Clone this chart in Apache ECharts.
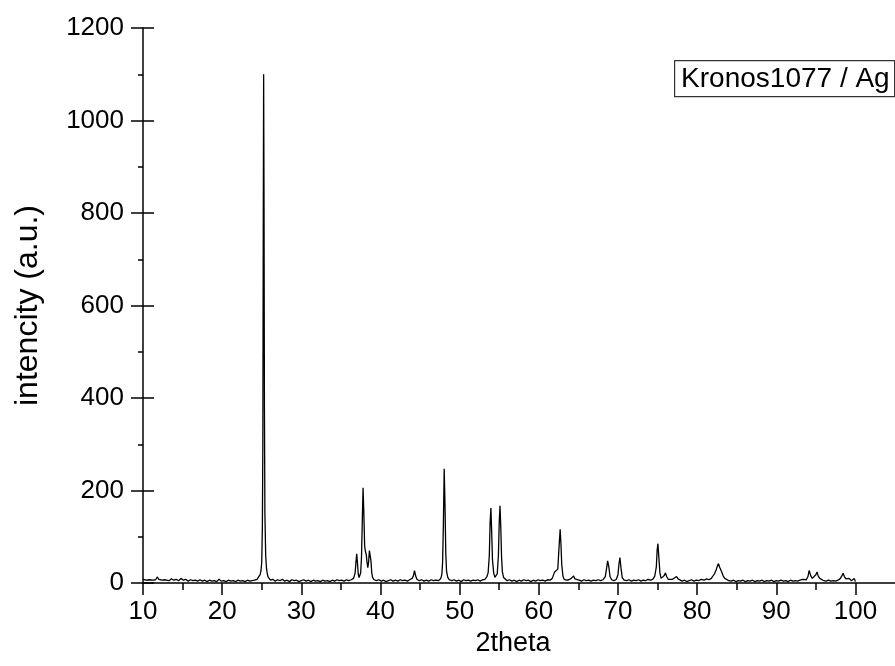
<!DOCTYPE html>
<html>
<head>
<meta charset="utf-8">
<script src="https://cdn.jsdelivr.net/npm/echarts@6/dist/echarts.min.js"></script>
<style>html,body{margin:0;padding:0;background:#fff}#chart{width:895px;height:666px}</style>
</head>
<body>
<div id="chart"></div>
<script>
// ---- data (2theta, intensity) ----
const scanLowAngle = [
  [10.0,8],[10.2,12],[10.4,6],[10.6,10],[10.8,7],[11.0,11],[11.2,6],[11.4,9],[11.6,7],[11.8,13],
  [12.0,8],[12.2,10],[12.4,6],[12.6,9],[12.8,7],[13.0,8],[13.3,5],[13.6,9],[13.9,6],[14.2,8],
  [14.5,5],[14.8,10],[15.1,6],[15.4,8],[15.7,4],[16.0,7],[16.3,5],[16.6,6],[16.9,4],[17.2,7],
  [17.5,4],[17.8,6],[18.1,3],[18.4,6],[18.7,4],[19.0,5],[19.3,3],[19.6,8],[19.9,4],[20.2,5],
  [20.5,3],[20.8,6],[21.1,4],[21.4,5],[21.7,3],[22.0,6],[22.3,4],[22.6,5],[22.9,3],[23.2,6],
  [23.5,4],[23.8,5],[24.1,6],[24.4,8],[24.6,12]
];
const scanPeak25 = [
  [24.8,18],[24.9,26],[25.0,45],[25.08,120],[25.14,300],[25.19,750],[25.24,1100],[25.29,820],
  [25.34,380],[25.4,150],[25.5,60],[25.6,32],[25.7,20],[25.8,13],[25.9,9],[26.1,6]
];
const scanMid1 = [
  [26.4,8],[26.7,4],[27.0,7],[27.3,5],[27.6,8],[27.9,4],[28.2,6],[28.5,3],[28.8,7],[29.1,5],
  [29.4,6],[29.7,3],[30.0,5],[30.3,7],[30.6,4],[30.9,6],[31.2,3],[31.5,6],[31.8,4],[32.1,5],
  [32.4,3],[32.7,6],[33.0,4],[33.3,5],[33.6,3],[33.9,6],[34.2,4],[34.5,7],[34.8,5],[35.1,6],
  [35.4,4],[35.7,7],[36.0,5],[36.3,7],[36.6,10]
];
const scanCluster38 = [
  [36.7,12],[36.8,22],[36.9,45],[37.0,63],[37.1,42],[37.2,18],[37.3,12],[37.4,14],[37.5,22],
  [37.6,55],[37.7,130],[37.8,206],[37.9,150],[38.0,80],[38.1,68],[38.2,62],[38.3,45],[38.4,33],
  [38.5,45],[38.6,70],[38.7,72],[38.8,48],[38.9,22],[39.0,12],[39.2,7]
];
const scanMid2 = [
  [39.5,5],[39.8,7],[40.1,4],[40.4,6],[40.7,3],[41.0,5],[41.3,7],[41.6,4],[41.9,6],[42.2,4],
  [42.5,7],[42.8,5],[43.1,6],[43.4,4],[43.7,7],[44.0,10],[44.15,15],[44.3,27],[44.45,15],
  [44.6,8],[44.9,5],[45.2,7],[45.5,4],[45.8,6],[46.1,4],[46.4,7],[46.7,5],[47.0,6],[47.3,5],[47.6,9]
];
const scanPeak48 = [
  [47.75,18],[47.85,45],[47.95,130],[48.05,247],[48.15,170],[48.25,65],[48.35,25],[48.5,12],[48.7,7]
];
const scanMid3 = [
  [49.0,5],[49.3,7],[49.6,4],[49.9,6],[50.2,3],[50.5,7],[50.8,5],[51.1,6],[51.4,4],[51.7,6],
  [52.0,5],[52.3,7],[52.6,4],[52.9,7],[53.2,8],[53.45,14]
];
const scanDoublet54 = [
  [53.6,22],[53.75,60],[53.85,130],[53.95,162],[54.05,110],[54.15,50],[54.3,22],[54.45,12],
  [54.6,10],[54.75,20],[54.9,60],[55.0,130],[55.1,167],[55.2,120],[55.3,55],[55.4,24],[55.55,12],[55.7,8]
];
const scanMid4 = [
  [56.0,5],[56.3,7],[56.6,4],[56.9,6],[57.2,3],[57.5,6],[57.8,4],[58.1,7],[58.4,5],[58.7,6],
  [59.0,3],[59.3,6],[59.6,4],[59.9,7],[60.2,5],[60.5,6],[60.8,4],[61.1,7],[61.4,6],[61.7,10]
];
const scanHigh1 = [
  [61.85,14],[62.0,24],[62.1,28],[62.25,20],[62.4,30],[62.55,75],[62.7,116],[62.8,85],[62.9,40],
  [63.05,15],[63.2,8],[63.5,6],[63.8,7],[64.1,10],[64.3,14],[64.4,15],[64.55,9],[64.8,5],
  [65.1,6],[65.4,4],[65.7,7],[66.0,5],[66.3,6],[66.6,4],[66.9,6],[67.2,5],[67.5,7],[67.8,5],
  [68.1,7],[68.4,14],[68.55,30],[68.7,48],[68.85,35],[69.0,14],[69.2,7],[69.5,5],[69.8,8],
  [70.0,18],[70.12,40],[70.25,55],[70.4,30],[70.55,11],[70.8,6],[71.1,5],[71.4,7],[71.7,4],
  [72.0,6],[72.3,5],[72.6,7],[72.9,4],[73.2,6],[73.5,5],[73.8,8],[74.1,6],[74.4,8],[74.65,15],
  [74.85,35],[74.95,70],[75.05,85],[75.15,60],[75.3,22],[75.45,10],[75.65,12],[75.85,16],
  [76.0,22],[76.15,14],[76.35,8],[76.6,6],[76.9,8],[77.15,12],[77.4,14],[77.6,9],[77.8,6]
];
const scanHigh2 = [
  [78.1,4],[78.4,6],[78.7,3],[79.0,5],[79.3,7],[79.6,4],[79.9,6],[80.2,5],[80.5,8],[80.7,10],
  [80.9,6],[81.2,9],[81.5,7],[81.8,10],[82.0,14],[82.2,20],[82.4,28],[82.55,36],[82.7,42],
  [82.85,34],[83.0,28],[83.15,22],[83.3,15],[83.5,10],[83.7,6],[84.0,5],[84.3,4],[84.6,6],
  [84.9,3],[85.2,5],[85.5,4],[85.8,6],[86.1,3],[86.4,5],[86.7,4],[87.0,6],[87.3,3],[87.6,5],
  [87.9,4],[88.2,6],[88.5,3],[88.8,5],[89.1,4],[89.4,6],[89.7,3],[90.0,5],[90.3,4],[90.6,6],
  [90.9,4],[91.2,5],[91.5,3],[91.8,6],[92.1,4],[92.4,5],[92.7,4],[93.0,6],[93.3,8],[93.5,5],
  [93.8,7],[94.0,14],[94.15,27],[94.35,16],[94.55,10],[94.8,12],[95.0,18],[95.15,24],[95.3,15],
  [95.5,10],[95.7,6],[96.0,5],[96.3,4],[96.6,6],[96.9,4],[97.2,5],[97.5,4],[97.8,6],[98.1,10],
  [98.3,16],[98.45,21],[98.6,14],[98.8,9],[99.0,7],[99.2,10],[99.35,6],[99.5,5],[99.7,9],[99.85,10],[100.0,3]
];
const xTickValues = [10, 20, 30, 40, 50, 60, 70, 80, 90, 100];
const xMinorTickValues = [15, 25, 35, 45, 55, 65, 75, 85, 95];
const yTickValues = [0, 200, 400, 600, 800, 1000, 1200];
const sampleName = 'Kronos1077 / Ag';
const xTitle = '2theta';
const yTitle = 'intencity (a.u.)';

const scan = [].concat(scanLowAngle, scanPeak25, scanMid1, scanCluster38, scanMid2, scanPeak48,
  scanMid3, scanDoublet54, scanMid4, scanHigh1, scanHigh2);

const font = '"Liberation Sans", Arial, sans-serif';
const black = '#000';
const chart = echarts.init(document.getElementById('chart'), null, {renderer: 'canvas'});
chart.setOption({
  animation: false,
  backgroundColor: '#fff',
  grid: {left: 143, top: 28, bottom: 83, right: 0, containLabel: false},
  xAxis: [{
    type: 'value', min: 10, max: 105, interval: 10, position: 'bottom',
    name: xTitle, nameLocation: 'middle', nameGap: 45,
    nameTextStyle: {fontFamily: font, fontSize: 27, color: black, padding: [0, 12, 0, 0]},
    axisLine: {show: true, onZero: false, lineStyle: {color: black, width: 1.5}},
    axisTick: {show: true, inside: false, length: 12, lineStyle: {color: black, width: 1.5},
      customValues: xTickValues},
    minorTick: {show: false},
    axisLabel: {fontFamily: font, fontSize: 26, color: black, margin: 16,
      customValues: xTickValues, formatter: v => String(v)},
    splitLine: {show: false}
  }, {
    type: 'value', min: 10, max: 105, interval: 10, position: 'bottom', offset: 0,
    axisLine: {show: false},
    axisTick: {show: true, inside: false, length: 7, lineStyle: {color: black, width: 1.5},
      customValues: xMinorTickValues},
    axisLabel: {show: false},
    splitLine: {show: false}
  }],
  yAxis: [{
    type: 'value', min: 0, max: 1200, interval: 200,
    name: yTitle, nameLocation: 'middle', nameGap: 99, nameRotate: 90,
    nameTextStyle: {fontFamily: font, fontSize: 32, color: black},
    axisLine: {show: true, onZero: false, lineStyle: {color: black, width: 1.5}},
    axisTick: {show: true, inside: false, length: 12, lineStyle: {color: black, width: 1.5}},
    minorTick: {show: true, splitNumber: 2, length: 5, lineStyle: {color: black, width: 1.5}},
    axisLabel: {fontFamily: font, fontSize: 26, color: black, margin: 19,
      customValues: yTickValues, formatter: v => String(v)},
    splitLine: {show: false}
  }, {
    type: 'value', min: 0, max: 1200, interval: 200, position: 'left', offset: 0,
    axisLine: {show: false},
    axisTick: {show: true, inside: true, length: 11, lineStyle: {color: black, width: 1.5}},
    axisLabel: {show: false},
    splitLine: {show: false}
  }],
  graphic: [{
    type: 'group', left: 674, top: 60,
    children: [{
      type: 'rect', shape: {x: 0.5, y: 0.5, width: 220, height: 36},
      style: {fill: '#fff', stroke: '#333', lineWidth: 1.2}
    }, {
      type: 'text', x: 7, y: 19,
      style: {text: sampleName, fill: black, font: '28px ' + font,
        verticalAlign: 'middle', align: 'left'}
    }]
  }],
  series: [{
    name: sampleName,
    type: 'line',
    xAxisIndex: 0, yAxisIndex: 0,
    data: scan,
    showSymbol: false,
    symbol: 'none',
    lineStyle: {color: black, width: 1.3},
    itemStyle: {color: black},
    clip: true
  }]
});
</script>
</body>
</html>
